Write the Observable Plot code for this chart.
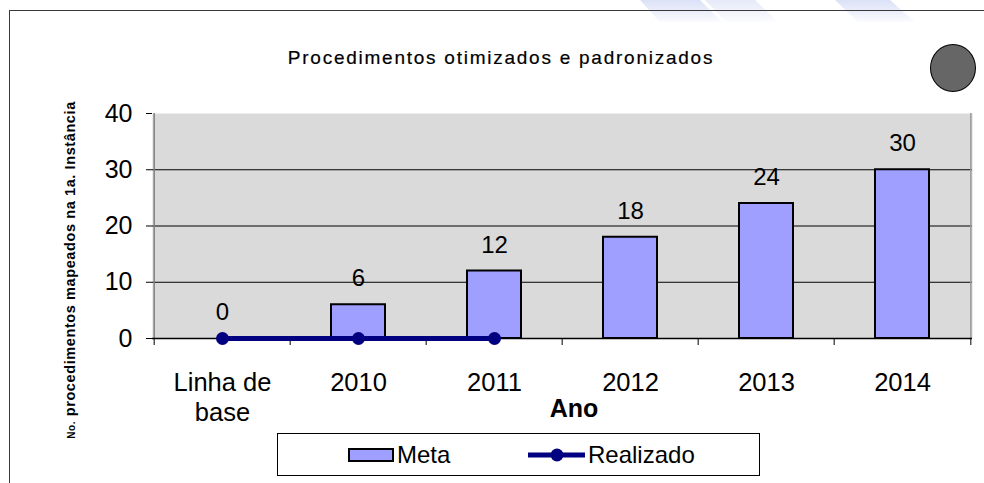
<!DOCTYPE html>
<html><head><meta charset="utf-8">
<script src="https://cdn.jsdelivr.net/npm/d3@7"></script>
<script src="https://cdn.jsdelivr.net/npm/@observablehq/plot@0.6"></script>
<style>
body{margin:0;background:#fff;font-family:Arial,"Liberation Sans",sans-serif;}
#wrap{position:relative;width:984px;height:483px;overflow:hidden;background:#fff;}
#wrap svg{position:absolute;left:0;top:0;}
.abs{position:absolute;white-space:nowrap;color:#000;}
#frame{position:absolute;left:9px;top:10px;width:1000px;height:500px;border-left:1.5px solid #3a3a3a;border-top:1.5px solid #3a3a3a;}
#title{left:0;width:1002px;top:46px;text-align:center;font-size:19px;letter-spacing:1.75px;line-height:24px;-webkit-text-stroke:0.2px #000;}
#ylab{left:70px;top:270px;transform:translate(-50%,-50%) rotate(-90deg);font-size:14.5px;font-weight:bold;letter-spacing:0.6px;}
#ylab small{font-size:10px;}
#xlab{left:574px;top:395px;transform:translateX(-50%);font-size:25px;font-weight:bold;line-height:26px;}
#circle{left:930px;top:44px;width:46px;height:48px;border-radius:50%;background:#666;border:1.5px solid #000;box-sizing:border-box;}
#legend{left:277px;top:433px;width:483px;height:43px;border:1.5px solid #000;box-sizing:border-box;background:#fff;}
.sw{position:absolute;}
.lt{position:absolute;font-size:24px;line-height:26px;top:8px;}
</style></head><body>
<div id="wrap"></div>
<script>
const categories = ["Linha de base", "2010", "2011", "2012", "2013", "2014"];
const categoryLabels = ["Linha de\nbase", "2010", "2011", "2012", "2013", "2014"];
const metaValues = [0, 6, 12, 18, 24, 30];
const realizadoCategories = ["Linha de base", "2010", "2011"];
const realizadoValues = [0, 0, 0];
const yTicks = [0, 10, 20, 30, 40];
const titleText = "Procedimentos otimizados e padronizados";
const yLabelNo = "No.";
const yLabelRest = " procedimentos mapeados na 1a. Instância";
const xLabelText = "Ano";
const legendLabels = ["Meta", "Realizado"];

const W = 984, H = 483, mL = 152, mR = 12, mT = 113, mB = 145;
const step = (W - mL - mR) / categories.length;
const metaData = categories.map((c, i) => ({c, v: metaValues[i]}));
const realData = realizadoCategories.map((c, i) => ({c, v: realizadoValues[i]}));
const labelOf = new Map(categories.map((c, i) => [c, categoryLabels[i]]));

const wrap = document.getElementById("wrap");

const chart = Plot.plot({
  width: W, height: H,
  marginLeft: mL, marginRight: mR, marginTop: mT, marginBottom: mB,
  style: {fontFamily: "Arial, 'Liberation Sans', sans-serif", background: "transparent", color: "#000", overflow: "visible"},
  x: {domain: categories, paddingInner: 0.6, paddingOuter: 0.3, label: null},
  y: {domain: [0, 40], label: null},
  marks: [
    Plot.frame({fill: "#dadada", stroke: null}),
    Plot.gridY(yTicks.filter(t => t > 0 && t < 40), {stroke: "#000", strokeOpacity: 1, strokeWidth: 1}),
    Plot.ruleX([categories[0]], {x: d => d, dx: -step / 2, y1: 40, y2: 0, stroke: "#7f7f7f", strokeWidth: 1.5}),
    Plot.ruleX([categories[categories.length - 1]], {x: d => d, dx: step / 2, y1: 40, y2: 0, stroke: "#9a9a9a", strokeWidth: 1.5}),
    Plot.ruleX(categories, {x: d => d, dx: -step / 2, y1: 0, y2: 0, insetBottom: -7, stroke: "#000", strokeWidth: 1}),
    Plot.ruleX([categories[categories.length - 1]], {x: d => d, dx: step / 2, y1: 0, y2: 0, insetBottom: -7, stroke: "#000", strokeWidth: 1}),
    Plot.axisY(yTicks, {tickSize: 6, tickPadding: 14, fontSize: 25, stroke: "#000"}),
    Plot.ruleY([0], {stroke: "#000", strokeWidth: 1.5}),
    Plot.barY(metaData, {x: "c", y: "v", fill: "#9f9fff", stroke: "#000", strokeWidth: 2}),
    Plot.text(metaData, {x: "c", y: "v", text: d => String(d.v), dy: -26, fontSize: 24, fill: "#000"}),
    Plot.lineY(realData, {x: "c", y: "v", stroke: "#000080", strokeWidth: 5}),
    Plot.dot(realData, {x: "c", y: "v", r: 6.5, fill: "#000080", stroke: null}),
    Plot.axisX({tickSize: 0, tickPadding: 32, fontSize: 25.5, lineHeight: 1.15, tickFormat: d => labelOf.get(d)})
  ]
});
wrap.appendChild(chart);

function add(html) { wrap.insertAdjacentHTML("beforeend", html); }
add(`<svg width="984" height="30" style="position:absolute;left:0;top:0">
  <defs><linearGradient id="fade" x1="0" y1="0" x2="0" y2="1"><stop offset="0" stop-color="#aebcec" stop-opacity="0.45"/><stop offset="1" stop-color="#aebcec" stop-opacity="0.05"/></linearGradient></defs>
  <polygon points="640,0 700,0 722,22 660,22" fill="url(#fade)"/>
  <polygon points="705,0 755,0 778,22 726,22" fill="url(#fade)" opacity="0.7"/>
  <polygon points="835,0 890,0 915,22 858,22" fill="url(#fade)"/>
</svg>`);
add(`<div id="frame"></div>`);
add(`<div id="title" class="abs">${titleText}</div>`);
add(`<div id="ylab" class="abs"><small>${yLabelNo}</small>${yLabelRest}</div>`);
add(`<div id="xlab" class="abs">${xLabelText}</div>`);
add(`<div id="circle" class="abs"></div>`);
add(`<div id="legend" class="abs">
  <div class="sw" style="left:70px;top:14px;width:46px;height:14px;background:#9f9fff;border:2px solid #000;box-sizing:border-box"></div>
  <div class="lt" style="left:119px">${legendLabels[0]}</div>
  <svg class="sw" style="left:249px;top:12px" width="60" height="18"><line x1="1" y1="9" x2="58" y2="9" stroke="#000080" stroke-width="5"/><circle cx="30" cy="9" r="6.5" fill="#000080"/></svg>
  <div class="lt" style="left:310px">${legendLabels[1]}</div>
</div>`);
</script>
</body></html>
